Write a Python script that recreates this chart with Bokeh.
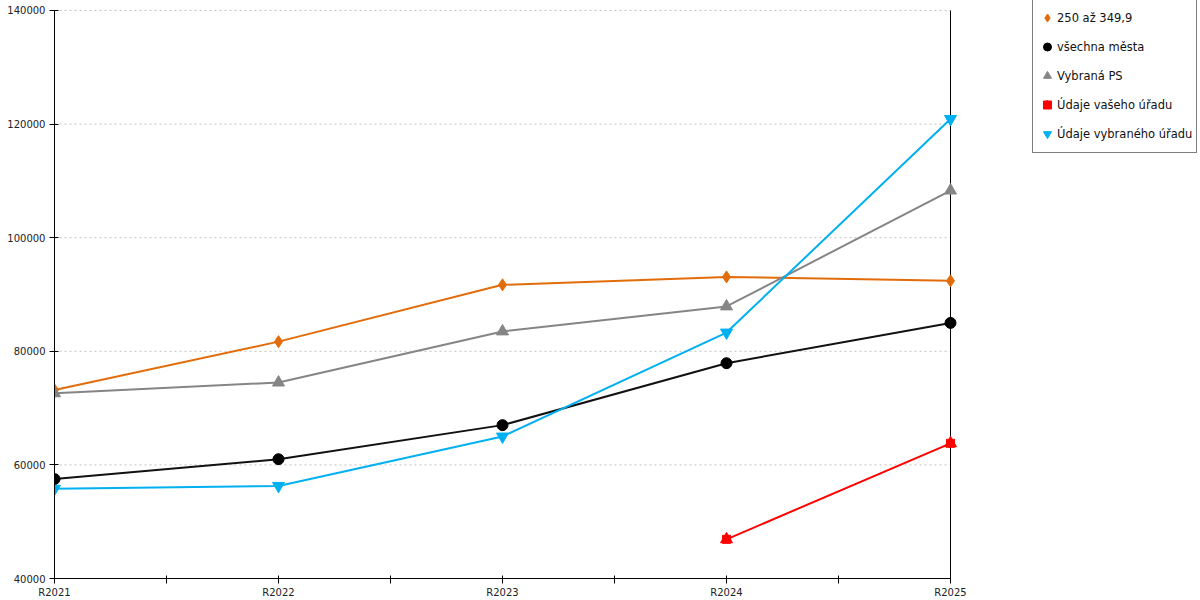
from bokeh.plotting import figure
from bokeh.models import Range1d, FixedTicker, Legend, LegendItem, BasicTickFormatter
from bokeh.embed import file_html
from bokeh.resources import INLINE

categories = ["R2021", "R2022", "R2023", "R2024", "R2025"]
s_orange = [73200, 81700, 91700, 93100, 92400]
s_black = [57500, 61000, 67000, 77900, 85000]
s_gray = [72600, 74500, 83500, 87900, 108300]
s_red = [float("nan"), float("nan"), float("nan"), 46900, 63800]
s_blue = [55800, 56300, 65000, 83300, 120900]
names = ["250 až 349,9", "všechna města", "Vybraná PS", "Údaje vašeho úřadu", "Údaje vybraného úřadu"]
y_ticks = [40000, 60000, 80000, 100000, 120000, 140000]

x = list(range(len(categories)))
mids = [i + 0.5 for i in x[:-1]]

# layout (pixels)
W, H = 1200, 600
B_LEFT, B_RIGHT, B_TOP, B_BOTTOM = 54, 1, 0, 21
PLOT_RIGHT_PX = 950      # where the last category sits
PLOT_TOP_PX = 10         # where the top tick sits
frame_left, frame_right = B_LEFT, W - B_RIGHT
frame_top, frame_bottom = B_TOP, H - B_BOTTOM

ppx = (PLOT_RIGHT_PX - frame_left) / (x[-1] - x[0])
x_end = x[-1] + (frame_right - PLOT_RIGHT_PX) / ppx
ppy = (frame_bottom - PLOT_TOP_PX) / (y_ticks[-1] - y_ticks[0])
y_end = y_ticks[-1] + (PLOT_TOP_PX - frame_top) / ppy

p = figure(width=W, height=H, output_backend="svg", toolbar_location=None,
           x_range=Range1d(x[0], x_end), y_range=Range1d(y_ticks[0], y_end),
           min_border_left=B_LEFT, min_border_right=B_RIGHT,
           min_border_top=B_TOP, min_border_bottom=B_BOTTOM)
p.outline_line_color = None
p.background_fill_color = "white"
p.border_fill_color = "white"
p.xgrid.visible = False
p.ygrid.visible = False

FONT = "DejaVu Sans"

# x axis
xa = p.xaxis[0]
xa.bounds = (x[0], x[-1])
xa.ticker = FixedTicker(ticks=x, minor_ticks=mids)
xa.major_label_overrides = {i: c for i, c in zip(x, categories)}
xa.major_tick_in = 3
xa.major_tick_out = 5
xa.minor_tick_in = 3
xa.minor_tick_out = 5
xa.minor_tick_line_color = "black"
xa.major_tick_line_color = "black"
xa.axis_line_color = "black"
xa.major_label_text_font = FONT
xa.major_label_text_font_size = "10px"
xa.major_label_text_color = "#222222"
xa.major_label_standoff = 3

# y axis
ya = p.yaxis[0]
ya.bounds = (y_ticks[0], y_ticks[-1])
ya.ticker = FixedTicker(ticks=y_ticks, minor_ticks=[])
ya.formatter = BasicTickFormatter(use_scientific=False)
ya.major_tick_in = 4
ya.major_tick_out = 5
ya.major_tick_line_color = "black"
ya.axis_line_color = "black"
ya.major_label_text_font = FONT
ya.major_label_text_font_size = "10px"
ya.major_label_text_color = "#222222"
ya.major_label_standoff = 4

# horizontal grid, limited to the category span
g_y = y_ticks[1:]
p.segment(x0=[x[0]] * len(g_y), x1=[x[-1]] * len(g_y), y0=g_y, y1=g_y,
          line_color="#c0c0c0", line_width=1, line_dash="2 3")
# right border of the plot area
p.segment(x0=[x[-1]], x1=[x[-1]], y0=[y_ticks[0]], y1=[y_ticks[-1]],
          line_color="black", line_width=1)

C_OR, C_BK, C_GR, C_RD, C_BL = "#E36C0A", "#111111", "#858585", "#FF0000", "#00B0F0"

p.line(x, s_orange, line_color=C_OR, line_width=2)
m1 = p.scatter(x, s_orange, marker="diamond", size=12, fill_color=C_OR, line_color=C_OR)
p.line(x, s_black, line_color=C_BK, line_width=2)
m2 = p.scatter(x, s_black, marker="circle", size=11, fill_color="black", line_color="black")
p.line(x, s_gray, line_color=C_GR, line_width=2)
m3 = p.scatter(x, s_gray, marker="triangle", size=12, fill_color=C_GR, line_color=C_GR)
p.line(x, s_red, line_color=C_RD, line_width=2)
m4a = p.scatter(x, s_red, marker="triangle", size=12, fill_color=C_RD, line_color=C_RD)
m4b = p.scatter(x, s_red, marker="square", size=8, fill_color=C_RD, line_color=C_RD)
p.line(x, s_blue, line_color=C_BL, line_width=2)
m5 = p.scatter(x, s_blue, marker="inverted_triangle", size=12, fill_color=C_BL, line_color=C_BL)

LEG_LEFT, LEG_BOTTOM = 1032, 154
legend = Legend(items=[
    LegendItem(label=names[0], renderers=[m1]),
    LegendItem(label=names[1], renderers=[m2]),
    LegendItem(label=names[2], renderers=[m3]),
    LegendItem(label=names[3], renderers=[m4a, m4b]),
    LegendItem(label=names[4], renderers=[m5]),
], location=(LEG_LEFT - frame_left, frame_bottom - LEG_BOTTOM))
legend.label_text_font = FONT
legend.label_text_font_size = "11.5px"
legend.label_text_color = "#111111"
legend.border_line_color = "black"
legend.border_line_width = 1
legend.background_fill_color = "white"
legend.background_fill_alpha = 1
legend.padding = 4
legend.spacing = 0
legend.label_height = 29
legend.glyph_height = 29
legend.glyph_width = 20
legend.label_standoff = 0
legend.margin = 0
p.add_layout(legend, "center")

open("out.html", "w").write(file_html(p, INLINE))
